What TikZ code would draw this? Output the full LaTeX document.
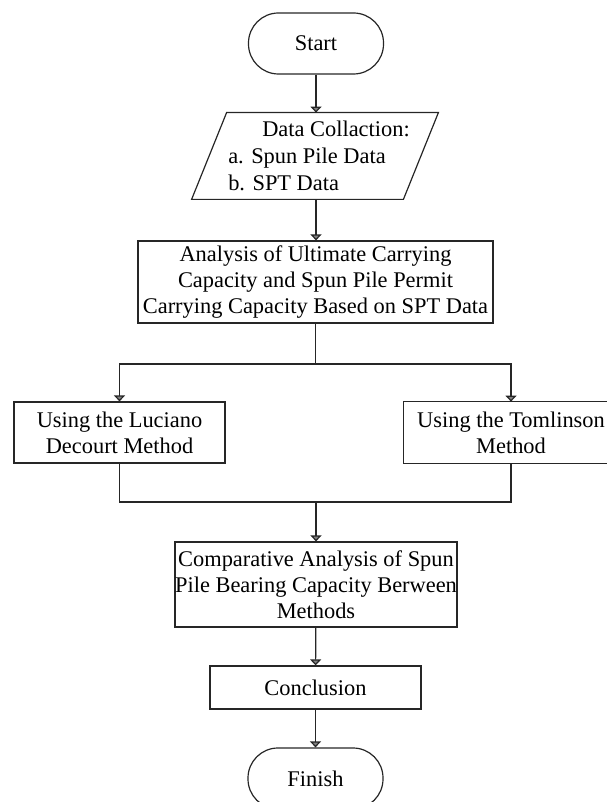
\documentclass[tikz,border=0pt]{standalone}
\usepackage{fontspec}
\setmainfont{Liberation Serif}
\usetikzlibrary{arrows.meta}

\tikzset{
  flowline/.style={draw=black!85, line width=0.6pt},
  flowarrow/.style={flowline, -{Triangle[width=5.5pt,length=3pt,fill=black!50]}},
  terminal/.style={draw=black!85, line width=0.6pt, rectangle, rounded corners=15pt,
    minimum width=67.5pt, minimum height=30.5pt, inner sep=0pt},
  process/.style={draw=black!85, line width=0.6pt, rectangle, align=center, inner sep=0pt},
  textonly/.style={rectangle, inner sep=0pt}
}

\begin{document}
\begin{tikzpicture}[x=0.5pt,y=-0.5pt,font=\fontsize{11.2}{13}\selectfont]
\useasboundingbox (0,0) rectangle (606,802);

%Terminal: Start
\node [terminal] (start) at (316,43.5) {Start};

%Input: Data (parallelogram)
\node [textonly, align=left, minimum width=105.5pt, minimum height=43pt,
  font=\fontsize{11.2}{13.5}\selectfont] (data) at (319,156)
  {\hspace*{17pt}Data Collaction:\\a. Spun Pile Data\\b. SPT Data};
\draw [flowline] ([xshift=-10.75pt]data.south west) -- ([xshift=6.75pt]data.north west)
  -- ([xshift=6.75pt]data.north east) -- ([xshift=-10.75pt]data.south east) -- cycle;

%Process: Analysis
\node [process, minimum width=177.5pt, minimum height=41pt] (analysis) at (315.5,282)
  {Analysis of Ultimate Carrying\\Capacity and Spun Pile Permit\\Carrying Capacity Based on SPT Data};

%Process: Methods
\node [process, minimum width=105.5pt, minimum height=30.5pt] (luciano) at (119.5,432.5)
  {Using the Luciano\\Decourt Method};
\node [textonly, align=center, minimum width=107pt, minimum height=30.5pt] (tomlinson) at (511,432.5)
  {Using the Tomlinson\\Method};
\draw [flowline] (tomlinson.south west) rectangle ([xshift=20pt]tomlinson.north east);

%Process: Comparison
\node [process, minimum width=141pt, minimum height=42.5pt] (comparative) at (316,584.5)
  {Comparative Analysis of Spun\\Pile Bearing Capacity Berween\\Methods};

%Process: Conclusion
\node [process, minimum width=105.5pt, minimum height=21.5pt] (conclusion) at (315.5,687.5)
  {Conclusion};

%Terminal: Finish
\node [terminal] (finish) at (315.5,778.5) {Finish};

% Branch points
\coordinate (split) at (315.5,364);
\coordinate (merge) at (316,502);

% Connectors
\draw [flowarrow] (start) -- (start |- data.north);
\draw [flowarrow] (start |- data.south) -- (start |- analysis.north);
\draw [flowline] (analysis.south) -- (split);
\draw [flowarrow] (split) -| (luciano.north);
\draw [flowarrow] (split) -| (tomlinson.north);
\draw [flowline] (luciano.south) |- (merge);
\draw [flowline] (tomlinson.south) |- (merge);
\draw [flowarrow] (merge) -- (comparative.north);
\draw [flowarrow] (comparative) -- (conclusion);
\draw [flowarrow] (conclusion) -- (finish);

\end{tikzpicture}
\end{document}
